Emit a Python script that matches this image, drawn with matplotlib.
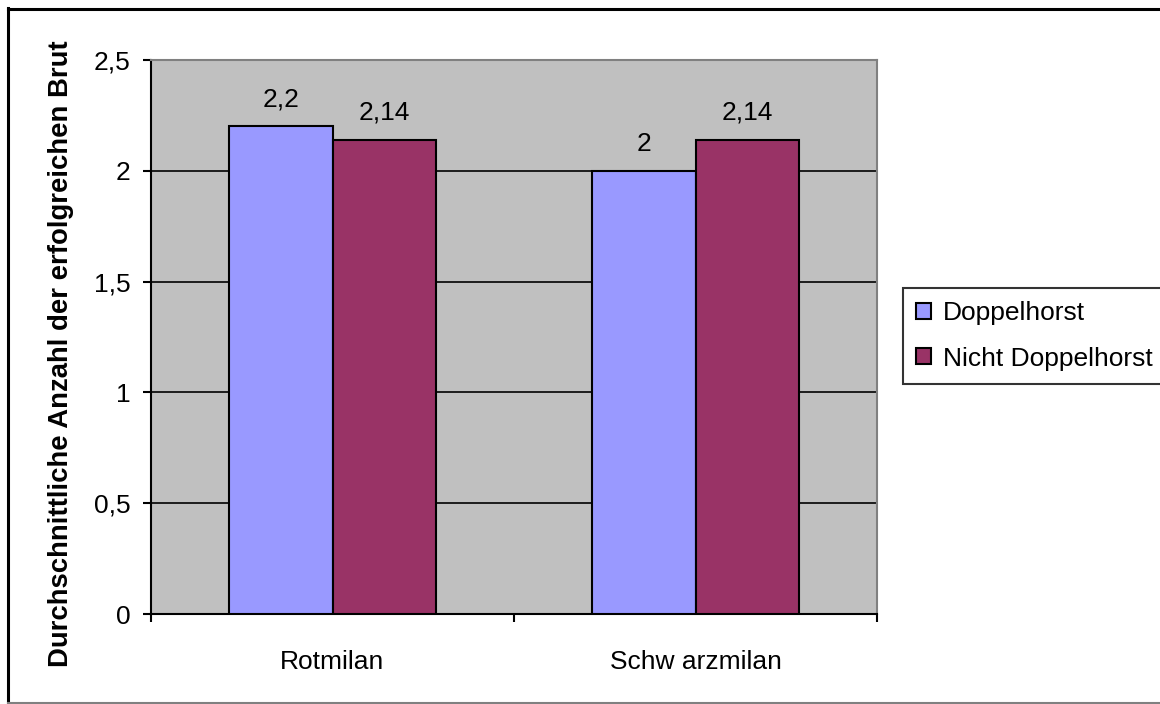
import matplotlib
matplotlib.use('Agg')
import matplotlib.pyplot as plt
from matplotlib.lines import Line2D
import numpy as np

plt.rcParams['font.family'] = ['Liberation Sans', 'DejaVu Sans']

categories = ['Rotmilan', 'Schw arzmilan']
series_names = ['Doppelhorst', 'Nicht Doppelhorst']
doppelhorst = [2.2, 2.0]
nicht_doppelhorst = [2.14, 2.14]
y_ticks = [0, 0.5, 1, 1.5, 2, 2.5]
y_label = 'Durchschnittliche Anzahl der erfolgreichen Brut'

colors = ['#9999FF', '#993366']
fs = 19


def fmt(v):
    return ('%g' % v).replace('.', ',')


fig = plt.figure(figsize=(11.6, 7.04), dpi=100)
fig.patch.set_facecolor('white')

# outer chart border (black top/left, grey bottom)
W, H = 1160, 704
fig.lines.append(Line2D([8 / W, 8 / W], [1 - 8 / H, 1 / H], transform=fig.transFigure,
                        color='black', lw=2.2))
fig.lines.append(Line2D([8 / W, 1.0], [1 - 9 / H, 1 - 9 / H], transform=fig.transFigure,
                        color='black', lw=2.2))
fig.lines.append(Line2D([8 / W, 1.0], [1 / H, 1 / H], transform=fig.transFigure,
                        color='#808080', lw=1.5))

ax = fig.add_axes([151 / W, 90 / H, 726 / W, 554 / H])
ax.set_facecolor('#C0C0C0')

x = np.arange(len(categories))
w = 0.285
for i, (vals, name) in enumerate(zip([doppelhorst, nicht_doppelhorst], series_names)):
    pos = x + (i - 0.5) * w
    ax.bar(pos, vals, width=w, color=colors[i], edgecolor='black',
           linewidth=1.5, label=name, zorder=3)
    for p, v in zip(pos, vals):
        ax.annotate(fmt(v), (p, v), xytext=(0, 11), textcoords='offset points',
                    ha='center', va='bottom', fontsize=fs)

ax.set_ylim(0, 2.5)
ax.set_xlim(-0.5, len(categories) - 0.5)
ax.set_yticks(y_ticks)
ax.set_yticklabels([fmt(t) for t in y_ticks], fontsize=fs)
ax.yaxis.grid(True, color='black', lw=1.2, zorder=1)
ax.set_axisbelow(True)

ax.set_xticks(np.arange(-0.5, len(categories)))
ax.set_xticklabels([])
ax.set_xticks(x, minor=True)
ax.set_xticklabels(categories, minor=True, fontsize=fs)
ax.tick_params(axis='x', which='minor', length=0, pad=26)
ax.tick_params(axis='x', which='major', length=6, width=1.5, direction='out')
ax.tick_params(axis='y', length=6, width=1.5, direction='out', pad=9)

for s in ['left', 'bottom']:
    ax.spines[s].set_color('black')
    ax.spines[s].set_linewidth(1.5)
for s in ['top', 'right']:
    ax.spines[s].set_color('#808080')
    ax.spines[s].set_linewidth(1.5)

ax.set_ylabel(y_label, fontsize=19.8, fontweight='bold')
ax.yaxis.set_label_coords(-77 / 726, (614 - 354) / 554)

leg = fig.legend(loc='center left', bbox_to_anchor=(903 / W, (H - 336) / H),
                 fontsize=fs, frameon=True, fancybox=False, handlelength=0.55,
                 handleheight=0.55, handletextpad=0.45, borderpad=0.5,
                 labelspacing=0.8, borderaxespad=0)
leg.get_frame().set_edgecolor('black')
leg.get_frame().set_linewidth(1.5)
for h in leg.legend_handles:
    h.set_linewidth(1.5)

fig.savefig('out.png', dpi=100, facecolor=fig.get_facecolor())
